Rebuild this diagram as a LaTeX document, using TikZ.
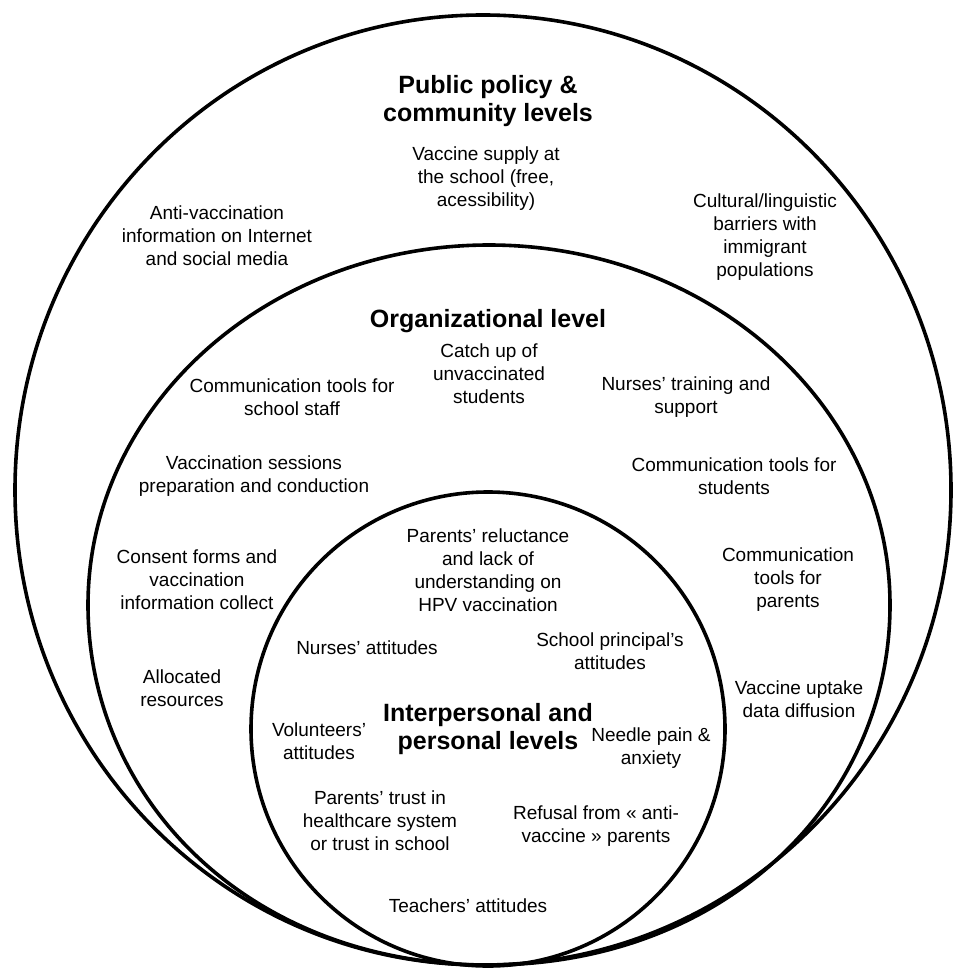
\documentclass[tikz,border=0pt]{standalone}
\usepackage{fontspec}
\setmainfont{Liberation Sans}
\begin{document}
\begin{tikzpicture}[x=1pt,y=-1pt,
  ring/.style={line width=3.6pt},
  lbl/.style={align=center, inner sep=0pt, font=\fontsize{19}{23}\selectfont},
  ttl/.style={align=center, inner sep=0pt, font=\fontsize{25}{27.5}\selectfont\bfseries}]
\useasboundingbox (0,0) rectangle (952,973);
% rings
\draw[ring] (483,490) ellipse [x radius=468pt, y radius=475pt];
\coordinate (mL) at (88,605);
\coordinate (mR) at (890,605);
\coordinate (mB) at (488,965);
\draw[ring] (mL) arc[start angle=180, end angle=0, x radius=401pt, y radius=360pt]
  .. controls (890,800) and (726,965) .. (mB)
  .. controls (250,965) and (88,800) .. (mL) -- cycle;
\draw[ring] (488,729) circle [radius=237pt];
% outer level
\node[ttl] (t1) at (488,101) {Public policy \&\\community levels};
\node[lbl] (a1) at (486,179) {Vaccine supply at\\the school (free,\\acessibility)};
\node[lbl] (a2) at (217,236) {Anti-vaccination\\information on Internet\\and social media};
\node[lbl] (a3) at (765,237) {Cultural/linguistic\\barriers with\\immigrant\\populations};
% organizational level
\node[ttl] (t2) at (488,321) {Organizational level};
\node[lbl] (b1) at (489,374) {Catch up of\\unvaccinated\\students};
\node[lbl] (b2) at (292,397) {Communication tools for\\school staff};
\node[lbl] (b3) at (686,397) {Nurses’ training and\\support};
\node[lbl] (b4) at (254,476) {Vaccination sessions\\preparation and conduction};
\node[lbl] (b5) at (734,476) {Communication tools for\\students};
\node[lbl] (b6) at (197,580) {Consent forms and\\vaccination\\information collect};
\node[lbl] (b7) at (788,580) {Communication\\tools for\\parents};
\node[lbl] (b8) at (182,688) {Allocated\\resources};
\node[lbl] (b9) at (799,699) {Vaccine uptake\\data diffusion};
% interpersonal level
\node[lbl] (c1) at (488,570) {Parents’ reluctance\\and lack of\\understanding on\\HPV vaccination};
\node[lbl] (c2) at (367,648) {Nurses’ attitudes};
\node[lbl] (c3) at (610,651) {School principal’s\\attitudes};
\node[lbl] (c4) at (319,741) {Volunteers’\\attitudes};
\node[ttl] (t3) at (488,729) {Interpersonal and\\personal levels};
\node[lbl] (c5) at (651,748) {Needle pain \&\\anxiety};
\node[lbl] (c6) at (380,821) {Parents’ trust in\\healthcare system\\or trust in school};
\node[lbl] (c7) at (596,826) {Refusal from « anti-\\vaccine » parents};
\node[lbl] (c8) at (468,906) {Teachers’ attitudes};
\end{tikzpicture}
\end{document}
